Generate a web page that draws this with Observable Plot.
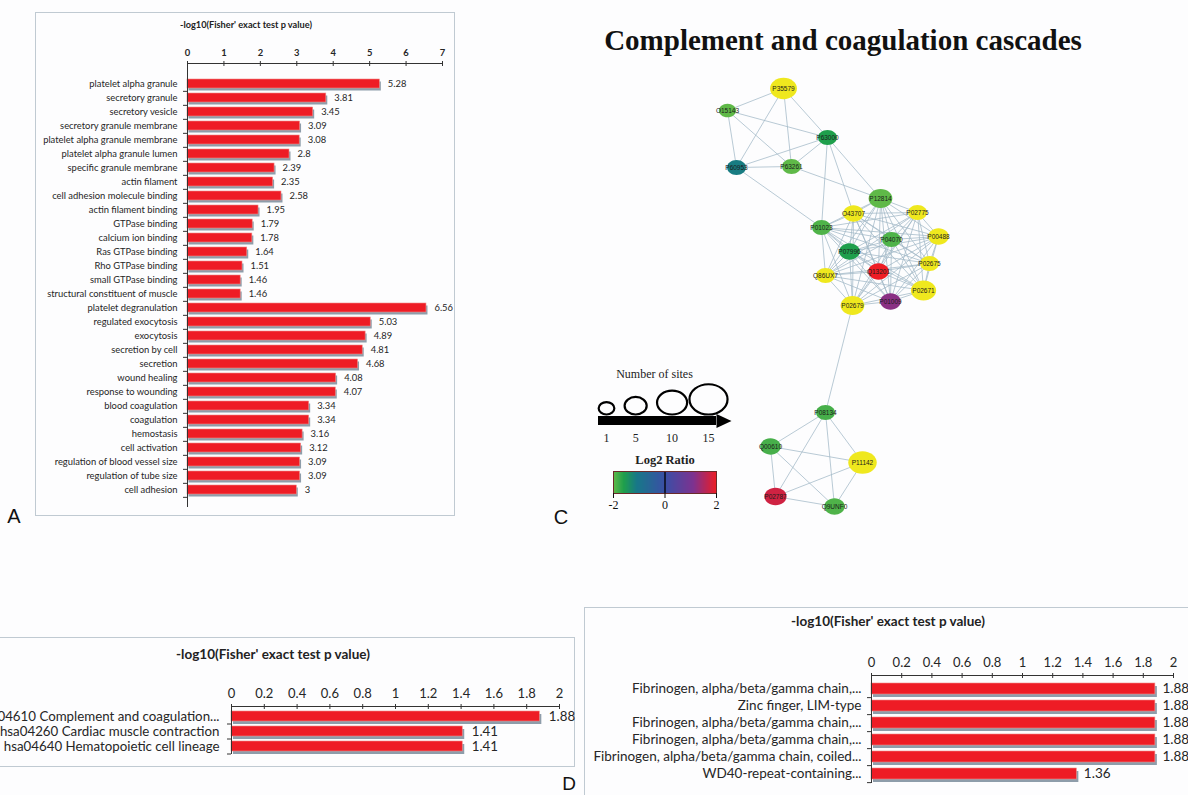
<!DOCTYPE html>
<html><head><meta charset="utf-8">
<script src="https://cdn.jsdelivr.net/npm/d3@7"></script>
<script src="https://cdn.jsdelivr.net/npm/@observablehq/plot@0.6"></script>
<style>
html,body{margin:0;padding:0;background:#fdfdfe;overflow:hidden;}
#page{position:relative;width:1188px;height:795px;overflow:hidden;background:#fdfdfe;}
.box{position:absolute;border:1px solid #c0cad2;box-sizing:border-box;background:#fdfdfe;}
.ttl{position:absolute;font-weight:bold;color:#222;white-space:nowrap;transform:translate(-50%,-50%);line-height:1;}
.plab{position:absolute;font-family:"Liberation Sans",Arial,sans-serif;font-size:20px;color:#111;transform:translate(-50%,-50%);line-height:1;}
</style></head><body><div id="page"></div>
<script>
// ---------------- data ----------------
const goTerms = ["platelet alpha granule","secretory granule","secretory vesicle","secretory granule membrane","platelet alpha granule membrane","platelet alpha granule lumen","specific granule membrane","actin filament","cell adhesion molecule binding","actin filament binding","GTPase binding","calcium ion binding","Ras GTPase binding","Rho GTPase binding","small GTPase binding","structural constituent of muscle","platelet degranulation","regulated exocytosis","exocytosis","secretion by cell","secretion","wound healing","response to wounding","blood coagulation","coagulation","hemostasis","cell activation","regulation of blood vessel size","regulation of tube size","cell adhesion"];
const goValues = [5.28,3.81,3.45,3.09,3.08,2.8,2.39,2.35,2.58,1.95,1.79,1.78,1.64,1.51,1.46,1.46,6.56,5.03,4.89,4.81,4.68,4.08,4.07,3.34,3.34,3.16,3.12,3.09,3.09,3];
const goTicks = [0,1,2,3,4,5,6,7];

const pathwayTerms = ["hsa04610 Complement and coagulation...","hsa04260 Cardiac muscle contraction","hsa04640 Hematopoietic cell lineage"];
const pathwayValues = [1.88,1.41,1.41];

const domainTerms = ["Fibrinogen, alpha/beta/gamma chain,...","Zinc finger, LIM-type","Fibrinogen, alpha/beta/gamma chain,...","Fibrinogen, alpha/beta/gamma chain,...","Fibrinogen, alpha/beta/gamma chain, coiled...","WD40-repeat-containing..."];
const domainValues = [1.88,1.88,1.88,1.88,1.88,1.36];
const smallTicks = [0,0.2,0.4,0.6,0.8,1,1.2,1.4,1.6,1.8,2];

const axisTitle = "-log10(Fisher' exact test p value)";
const networkTitle = "Complement and coagulation cascades";

// network (layout positions as exported from the graph layout)
const proteins  = ["P35579","O15143","P63000","P60953","P63261","P12814","O43707","P02775","P01023","P00488","P04070","P07996","P02675","Q13201","Q86UX7","P02671","P01009","P02679","P08134","Q00610","P11142","P02787","Q9UNF0"];
const layoutX   = [783,727,827,736,791,880,853,917,821,938,891,849,929,878,825,923,890,852,825,770,862,775,834];
const layoutY   = [88,110,137,167,166,198,213,212,227,236,239,251,263,271,275,290,301,305,412,446,462,496,506];
const siteCounts= [8,2,3,3,3,6,4,3,3,4,3,4,3,4,3,7,4,6,3,4,9,5,4];
const log2Ratios= [null,-2,-1.6,-1.15,-2,-2,null,null,-1.9,null,-1.9,-1.6,null,2,null,null,1.2,null,-1.85,-1.85,null,1.75,-1.9];
const extraEdges = [["P35579","O15143"],["P35579","P60953"],["P35579","P63261"],["P35579","P63000"],["O15143","P60953"],["O15143","P63261"],["O15143","P63000"],["P60953","P63261"],["P60953","P63000"],["P63261","P63000"],["P60953","P01023"],["P63261","P12814"],["P63000","P01023"],["P63000","O43707"],["P63000","P12814"],["P02679","P08134"]];
const coagulationClique = ["P12814","O43707","P02775","P01023","P00488","P04070","P07996","P02675","Q13201","Q86UX7","P02671","P01009","P02679"];
const lowerClique = ["P08134","Q00610","P11142","P02787","Q9UNF0"];
const sizeLegend = [1,5,10,15];
const ratioStops = [-2,-1.6,-1.1,0,1.1,2];
const ratioColors = ["#5fb948","#1f9f4c","#177888","#3b4fa6","#7d3290","#ee1c24"];
const ratioTicks = [-2,0,2];

// ---------------- helpers ----------------
const page = document.getElementById("page");
const FONT = "Lato, 'Liberation Sans', sans-serif";
const SERIF = "'Liberation Serif', 'DejaVu Serif', serif";
const plotStyle = {background:"transparent", overflow:"visible", maxWidth:"none", color:"#262626"};
function place(el, left, top){ el.style.position="absolute"; el.style.left=left+"px"; el.style.top=top+"px"; page.appendChild(el); return el; }
function label(text, cls, x, y, extra){ const d=document.createElement("div"); d.className=cls; d.textContent=text; d.style.left=x+"px"; d.style.top=y+"px"; Object.assign(d.style, extra||{}); page.appendChild(d); return d; }

function barPanel(o){
  const {left, top, width, height} = o.box;
  const box = document.createElement("div"); box.className="box";
  Object.assign(box.style,{left:left+"px",top:top+"px",width:width+"px",height:height+"px"});
  page.appendChild(box);
  label(o.title, "ttl", o.titleX, o.titleY, {fontSize:o.titleSize+"px", fontFamily:FONT});
  const n = o.cats.length, idx = d3.range(n);
  const rows = idx.map(i=>({i, v:o.vals[i]}));
  const step = (o.bandBottom - o.bandTop)/n;
  const frameH = o.bandBottom - o.axisY;
  const unit = (o.maxX - o.zeroX)/o.xMax;
  const plot = Plot.plot({
    width, height,
    marginTop: o.axisY - top, marginBottom: top + height - o.bandBottom,
    marginLeft: o.zeroX - left, marginRight: left + width - o.maxX,
    style: {...plotStyle, fontFamily: FONT},
    x: {domain:[0, o.xMax], label:null},
    y: {domain: idx, insetTop: o.bandTop - o.axisY, paddingInner: o.pad, paddingOuter: o.pad/2, label:null},
    marks: [
      Plot.barX(rows, {y:"i", x:"v", fill:"#8e9daa", dx:o.sdx, dy:o.sdy}),
      Plot.barX(rows, {y:"i", x:"v", fill:"#ee1c25", stroke:"#f28a86", strokeWidth:0.6}),
      Plot.text(rows, {y:"i", x:"v", text:d=>String(d.v), textAnchor:"start", dx:o.valueDx, fontSize:o.font, fill:"#262626"}),
      Plot.ruleX([0], {stroke:"#333", strokeWidth:1}),
      Plot.ruleY(idx, {y:d=>d, x1:0, x2:-4/unit, dy:step/2, stroke:"#333", strokeWidth:1}),
      Plot.frame({anchor:"top", stroke:"#333", strokeWidth:1}),
      Plot.ruleX(o.ticks, {x:d=>d, insetTop:-2, insetBottom:frameH-3, stroke:"#333", strokeWidth:1}),
      Plot.axisX(o.ticks, {anchor:"top", tickSize:0, tickPadding:o.tickPad, fontSize:o.tickFont, fontWeight:o.tickWeight, label:null, tickFormat:d=>String(d)}),
      Plot.axisY({tickSize:0, tickPadding:o.labelPad, fontSize:o.font, tickFormat:i=>o.cats[i], label:null})
    ]
  });
  place(plot, left, top);
}

// ---------------- panel A ----------------
barPanel({cats:goTerms, vals:goValues, ticks:goTicks, xMax:7,
  box:{left:35, top:12, width:420, height:504}, title:axisTitle, titleX:246, titleY:25, titleSize:9.2,
  axisY:63, bandTop:66, bandBottom:507, zeroX:187, maxX:442, pad:0.33, sdx:1.5, sdy:2.5,
  font:9.4, tickFont:9.4, tickWeight:"bold", tickPad:8, labelPad:10, valueDx:8});

// ---------------- panel B ----------------
barPanel({cats:pathwayTerms, vals:pathwayValues, ticks:smallTicks, xMax:2,
  box:{left:-33, top:637, width:608, height:130}, title:axisTitle, titleX:273, titleY:655, titleSize:13.5,
  axisY:706, bandTop:709, bandBottom:754, zeroX:231, maxX:559, pad:0.33, sdx:2, sdy:3,
  font:13.3, tickFont:13, tickWeight:"normal", tickPad:9, labelPad:12, valueDx:9});

// ---------------- panel D ----------------
barPanel({cats:domainTerms, vals:domainValues, ticks:smallTicks, xMax:2,
  box:{left:584, top:607, width:607, height:200}, title:axisTitle, titleX:888, titleY:622, titleSize:13.5,
  axisY:675, bandTop:679.5, bandBottom:783, zeroX:871, maxX:1173, pad:0.33, sdx:2, sdy:3,
  font:13.5, tickFont:13, tickWeight:"normal", tickPad:9, labelPad:10, valueDx:7});

// ---------------- panel C: network ----------------
label(networkTitle, "ttl", 843, 40, {fontSize:29+"px", fontFamily:SERIF, color:"#111"});

function ellipsePath(ctx, rx, ry, cy){
  const k = 0.5523;
  ctx.moveTo(rx, cy);
  ctx.bezierCurveTo(rx, cy+k*ry, k*rx, cy+ry, 0, cy+ry);
  ctx.bezierCurveTo(-k*rx, cy+ry, -rx, cy+k*ry, -rx, cy);
  ctx.bezierCurveTo(-rx, cy-k*ry, -k*rx, cy-ry, 0, cy-ry);
  ctx.bezierCurveTo(k*rx, cy-ry, rx, cy-k*ry, rx, cy);
  ctx.closePath();
}
const ellipse = {draw(ctx, size){ const r=Math.sqrt(size/Math.PI); ellipsePath(ctx, r*1.12, r*0.89, 0); }};
const ellipseBottom = {draw(ctx, size){ const r=Math.sqrt(size/Math.PI); ellipsePath(ctx, r*1.12, r*0.89, -r*0.89); }};
const arrowHead = {draw(ctx){ ctx.moveTo(0,-7); ctx.lineTo(15,0); ctx.lineTo(0,7); ctx.closePath(); }};

const rScale = {type:"linear", domain:[1,15], range:[7,17]};
const colorScale = {type:"linear", domain:ratioStops, range:ratioColors, clamp:true};

const nodes = proteins.map((id,i)=>({id, lx:layoutX[i], ly:layoutY[i], sites:siteCounts[i], ratio:log2Ratios[i]}));
const byId = new Map(nodes.map(d=>[d.id,d]));
const edges = extraEdges.slice();
for (const group of [coagulationClique, lowerClique])
  for (let i=0;i<group.length;i++) for (let j=i+1;j<group.length;j++) edges.push([group[i],group[j]]);

const net = Plot.plot({
  width:400, height:470, margin:0,
  style:{...plotStyle, fontFamily:"'Liberation Sans', sans-serif"},
  x:{domain:[580,980], range:[0,400], axis:null},
  y:{domain:[60,530], range:[0,470], axis:null},
  r:rScale, color:colorScale,
  marks:[
    Plot.link(edges, {x1:e=>byId.get(e[0]).lx, y1:e=>byId.get(e[0]).ly, x2:e=>byId.get(e[1]).lx, y2:e=>byId.get(e[1]).ly, stroke:"#a3b9c8", strokeWidth:0.9, strokeOpacity:0.85}),
    Plot.dot(nodes.filter(d=>d.ratio==null), {x:"lx", y:"ly", r:"sites", fill:"#efe81e", symbol:ellipse}),
    Plot.dot(nodes.filter(d=>d.ratio!=null), {x:"lx", y:"ly", r:"sites", fill:"ratio", symbol:ellipse}),
    Plot.text(nodes, {x:"lx", y:"ly", text:"id", fontSize:6.5, fill:"#1c1c1c"})
  ]
});
place(net, 580, 60);

// size legend
const sizeLeg = Plot.plot({
  width:160, height:90, margin:0,
  style:{...plotStyle, fontFamily:SERIF, color:"#111"},
  x:{domain:[1,15], range:[26,128], axis:null},
  r:rScale,
  marks:[
    Plot.text(["Number of sites"], {frameAnchor:"top", dy:14, dx:-6, fontSize:12, fill:"#222"}),
    Plot.dot(sizeLegend, {x:d=>d, r:d=>d, symbol:ellipseBottom, frameAnchor:"top", dy:59, stroke:"#000", strokeWidth:2.2, fill:"none"}),
    Plot.barX([sizeLegend], {x1:d=>d3.min(d), x2:d=>d3.max(d), insetLeft:-8, insetRight:-8, insetTop:61, insetBottom:20, fill:"#000"}),
    Plot.dot([sizeLegend], {x:d=>d3.max(d), dx:8, frameAnchor:"top", dy:65.5, symbol:arrowHead, fill:"#000"}),
    Plot.text(sizeLegend, {x:d=>d, text:d=>String(d), frameAnchor:"top", dy:78, fontSize:12, fill:"#222"})
  ]
});
place(sizeLeg, 580, 355);

// colour legend
const colLeg = Plot.plot({
  width:160, height:75, marginLeft:33, marginRight:24, marginTop:26, marginBottom:27,
  style:{...plotStyle, fontFamily:SERIF, color:"#111"},
  x:{domain:[d3.min(ratioStops), d3.max(ratioStops)], label:null},
  y:{domain:[0,1], axis:null},
  color:colorScale,
  marks:[
    Plot.raster({x1:d3.min(ratioStops), x2:d3.max(ratioStops), y1:0, y2:1, fill:(x,y)=>x, width:206, height:2}),
    Plot.ruleX([0], {stroke:"#000", strokeWidth:1.3}),
    Plot.frame({stroke:"#6a2a2a", strokeWidth:1}),
    Plot.axisX(ratioTicks, {anchor:"bottom", tickSize:5, tickPadding:2, fontSize:12, tickFormat:d=>String(d), label:null}),
    Plot.text(["Log2 Ratio"], {frameAnchor:"top", dy:-16, fontSize:12.5, fontWeight:"bold", fill:"#222"})
  ]
});
place(colLeg, 580, 445);

// panel letters
label("A", "plab", 14, 516);
label("C", "plab", 561, 517);
label("D", "plab", 569, 783, {fontSize:"19px"});
</script></body></html>
